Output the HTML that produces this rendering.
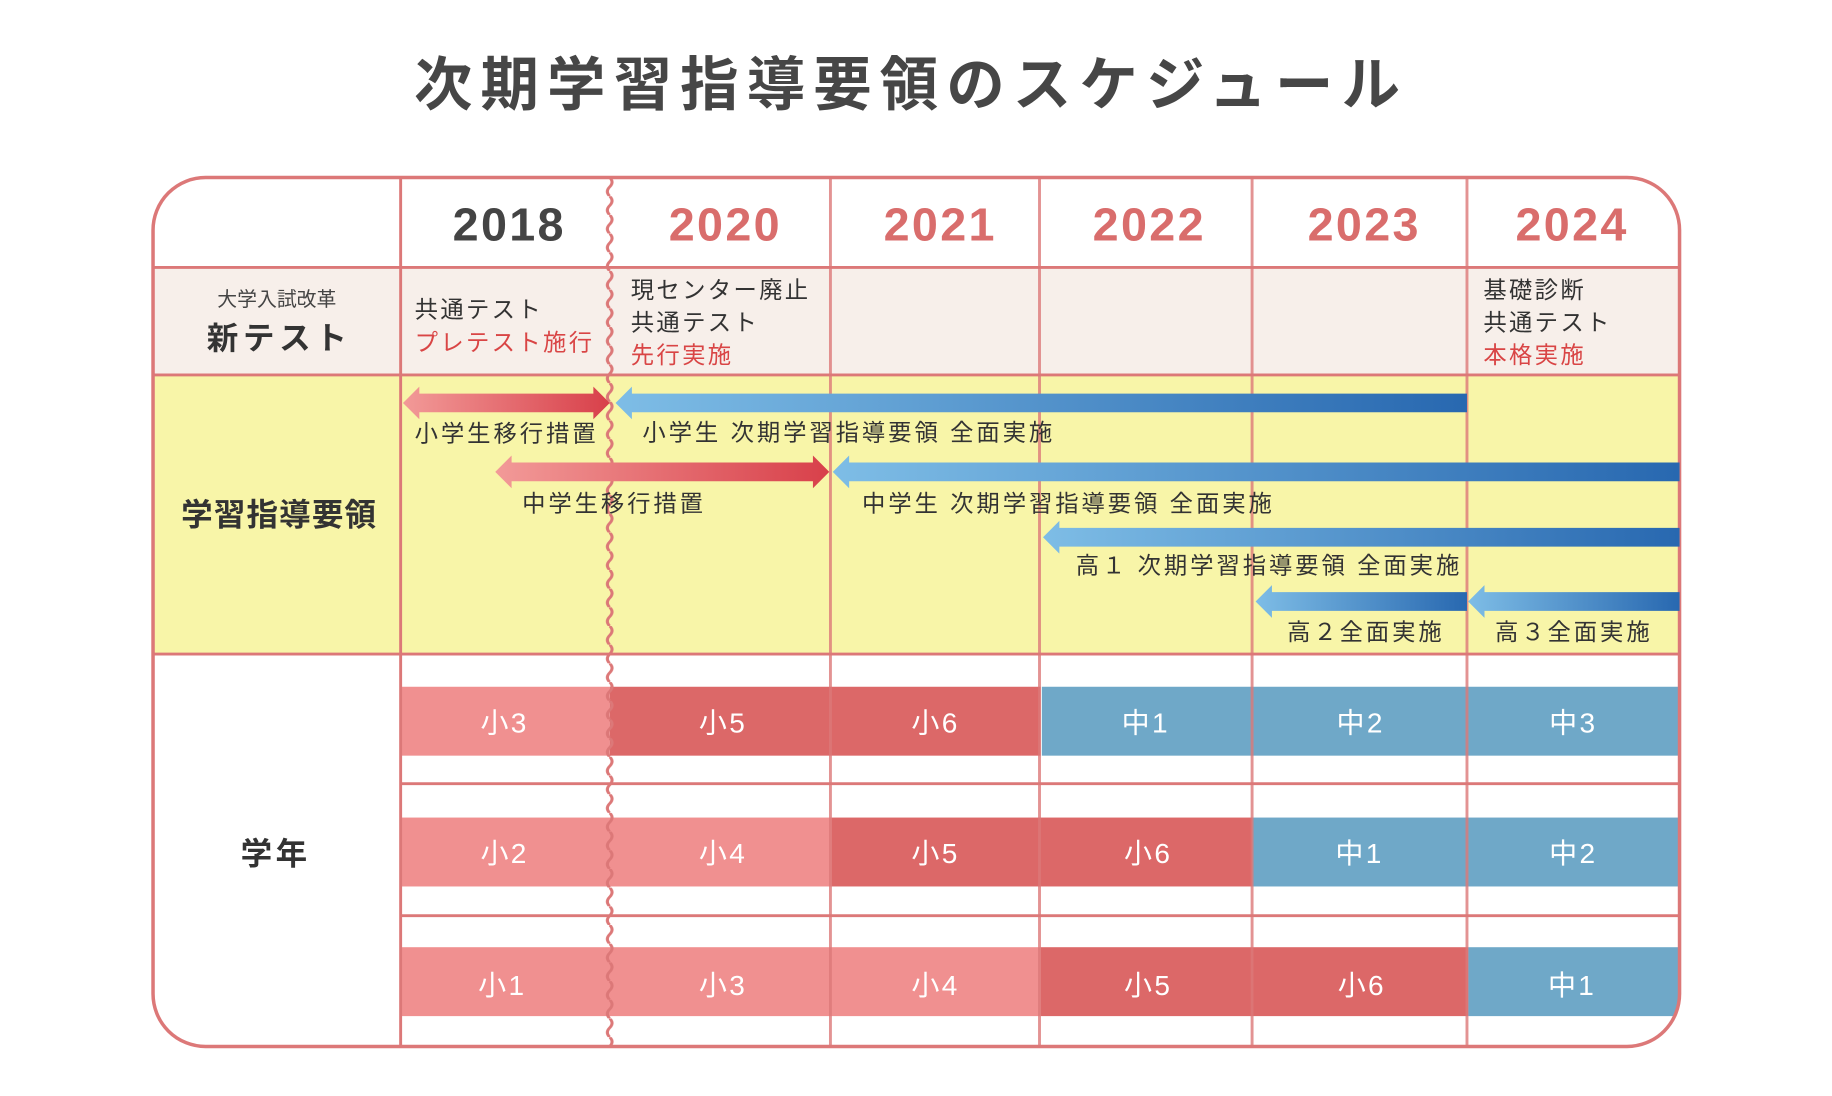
<!DOCTYPE html>
<html><head><meta charset="utf-8"><style>
html,body{margin:0;padding:0;background:#fff;}
svg{display:block;}
text{font-family:"Liberation Sans","Noto Sans CJK JP",sans-serif;}
</style></head><body>
<svg width="1832" height="1096" viewBox="0 0 1568.5 938.4" xmlns="http://www.w3.org/2000/svg">
<defs>
<clipPath id="fr"><rect x="131" y="152" width="1307" height="744" rx="45"/></clipPath>
<linearGradient id="rg" x1="0" x2="1" y1="0" y2="0"><stop offset="0" stop-color="#f29a98"/><stop offset="1" stop-color="#d8404a"/></linearGradient>
<linearGradient id="bg" x1="0" x2="1" y1="0" y2="0"><stop offset="0" stop-color="#7ebde6"/><stop offset="1" stop-color="#2868b0"/></linearGradient>
<pattern id="wave" x="516" y="152" width="12" height="16" patternUnits="userSpaceOnUse">
<path d="M6 0 q4 4 0 8 q-4 4 0 8" stroke="#dc7878" stroke-width="2.5" fill="none"/>
</pattern>
</defs>
<text x="780" y="90" font-size="50" font-weight="bold" fill="#464646" text-anchor="middle" letter-spacing="7">次期学習指導要領のスケジュール</text>
<g clip-path="url(#fr)">
<rect x="131" y="152" width="1307" height="744" fill="#fff"/>
<rect x="131" y="229" width="1307" height="92" fill="#f7efea"/>
<rect x="131" y="321" width="1307" height="239" fill="#f8f5a8"/>
<rect x="343" y="588" width="179" height="59" fill="#f09090"/>
<rect x="522" y="588" width="369" height="59" fill="#dc6868"/>
<rect x="892" y="588" width="546" height="59" fill="#6fa8c8"/>
<rect x="343" y="700" width="369" height="59" fill="#f09090"/>
<rect x="712" y="700" width="360" height="59" fill="#dc6868"/>
<rect x="1072" y="700" width="366" height="59" fill="#6fa8c8"/>
<rect x="343" y="811" width="548" height="59" fill="#f09090"/>
<rect x="891" y="811" width="366" height="59" fill="#dc6868"/>
<rect x="1257" y="811" width="181" height="59" fill="#6fa8c8"/>
</g>
<g stroke="#dc7878" stroke-width="2.5" fill="none">
<line x1="131" y1="229" x2="1438" y2="229"/>
<line x1="131" y1="321" x2="1438" y2="321"/>
<line x1="131" y1="560" x2="1438" y2="560"/>
<line x1="343" y1="671" x2="1438" y2="671"/>
<line x1="343" y1="784" x2="1438" y2="784"/>
<line x1="343" y1="152" x2="343" y2="896"/>
<line x1="711" y1="152" x2="711" y2="896" stroke-opacity="0.8"/>
<line x1="890" y1="152" x2="890" y2="896" stroke-opacity="0.8"/>
<line x1="1072" y1="152" x2="1072" y2="896" stroke-opacity="0.8"/>
<line x1="1256" y1="152" x2="1256" y2="896" stroke-opacity="0.8"/>
<rect x="131" y="152" width="1307" height="744" rx="45" stroke-width="3"/>
</g>
<rect x="516" y="152" width="12" height="744" fill="url(#wave)"/>
<path d="M345 345 L359 331 L359 337 L508 337 L508 331 L522 345 L508 359 L508 353 L359 353 L359 359 Z" fill="url(#rg)"/>
<path d="M527 345 L541 331 L541 337 L1256 337 L1256 353 L541 353 L541 359 Z" fill="url(#bg)"/>
<path d="M424 404 L438 390 L438 396 L696 396 L696 390 L710 404 L696 418 L696 412 L438 412 L438 418 Z" fill="url(#rg)"/>
<path d="M713 404 L727 390 L727 396 L1438 396 L1438 412 L727 412 L727 418 Z" fill="url(#bg)"/>
<path d="M893 460 L907 446 L907 452 L1438 452 L1438 468 L907 468 L907 474 Z" fill="url(#bg)"/>
<path d="M1075 515 L1089 501 L1089 507 L1256 507 L1256 523 L1089 523 L1089 529 Z" fill="url(#bg)"/>
<path d="M1257 515 L1271 501 L1271 507 L1438 507 L1438 523 L1271 523 L1271 529 Z" fill="url(#bg)"/>
<g font-size="40" font-weight="bold" text-anchor="middle" fill="#d96d6c" letter-spacing="2">
<text x="436" y="206" fill="#444">2018</text>
<text x="621" y="206">2020</text>
<text x="805" y="206">2021</text>
<text x="984" y="206">2022</text>
<text x="1168" y="206">2023</text>
<text x="1346" y="206">2024</text>
</g>
<text x="237" y="262" font-size="17" fill="#444" text-anchor="middle">大学入試改革</text>
<text x="239" y="299" font-size="27" font-weight="bold" fill="#333" text-anchor="middle" letter-spacing="4">新テスト</text>
<g font-size="20" fill="#333" letter-spacing="2">
<text x="355" y="272">共通テスト</text>
<text x="355" y="300" fill="#d94545">プレテスト施行</text>
<text x="540" y="255">現センター廃止</text>
<text x="540" y="283">共通テスト</text>
<text x="540" y="311" fill="#d94545">先行実施</text>
<text x="1270" y="255">基礎診断</text>
<text x="1270" y="283">共通テスト</text>
<text x="1270" y="311" fill="#d94545">本格実施</text>
</g>
<text x="239" y="450" font-size="27" font-weight="bold" fill="#333" text-anchor="middle" letter-spacing="1">学習指導要領</text>
<g font-size="20" fill="#333" letter-spacing="2.5">
<text x="355" y="378">小学生移行措置</text>
<text x="550" y="377">小学生 次期学習指導要領 全面実施</text>
<text x="447" y="438">中学生移行措置</text>
<text x="738" y="438">中学生 次期学習指導要領 全面実施</text>
<text x="921" y="491">高１ 次期学習指導要領 全面実施</text>
<text x="1102" y="548">高２全面実施</text>
<text x="1280" y="548">高３全面実施</text>
</g>
<text x="236" y="740" font-size="27" font-weight="bold" fill="#333" text-anchor="middle" letter-spacing="3">学年</text>
<g font-size="24" fill="#fff" text-anchor="middle" letter-spacing="2">
<text x="432" y="627">小3</text><text x="619" y="627">小5</text><text x="801" y="627">小6</text>
<text x="981" y="627">中1</text><text x="1165" y="627">中2</text><text x="1347" y="627">中3</text>
<text x="432" y="739">小2</text><text x="619" y="739">小4</text><text x="801" y="739">小5</text>
<text x="983" y="739">小6</text><text x="1164" y="739">中1</text><text x="1347" y="739">中2</text>
<text x="430" y="852">小1</text><text x="619" y="852">小3</text><text x="801" y="852">小4</text>
<text x="983" y="852">小5</text><text x="1166" y="852">小6</text><text x="1346" y="852">中1</text>
</g>
</svg>
</body></html>
